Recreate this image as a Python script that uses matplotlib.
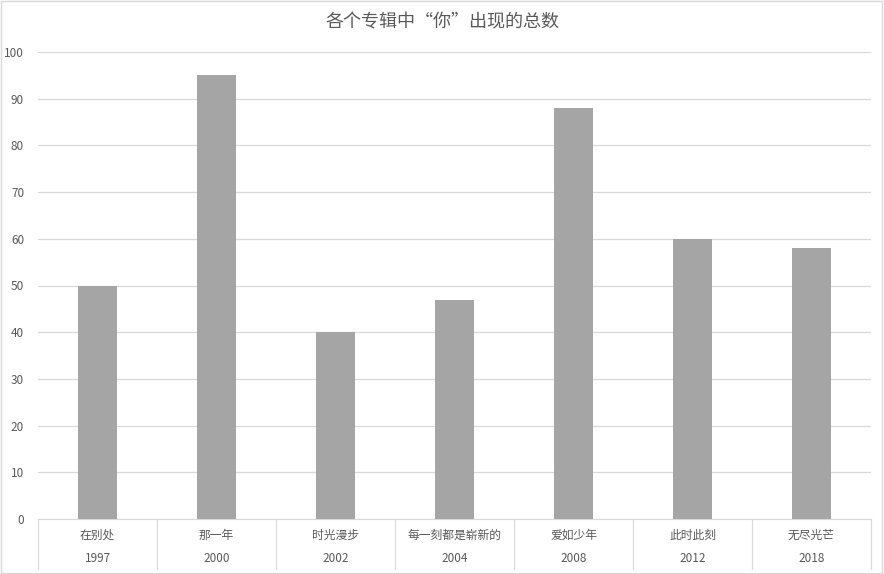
import matplotlib.pyplot as plt
from matplotlib.patches import Rectangle
import matplotlib.transforms as mtransforms

plt.rcParams['font.family'] = ['Noto Sans CJK SC', 'DejaVu Sans']

# album names, release years and how often "你" appears
albums = ['在别处', '那一年', '时光漫步', '每一刻都是崭新的', '爱如少年', '此时此刻', '无尽光芒']
years = ['1997', '2000', '2002', '2004', '2008', '2012', '2018']
counts = [50, 95, 40, 47, 88, 60, 58]

text_color = '#595959'
line_color = '#D9D9D9'

fig = plt.figure(figsize=(8.84, 5.74), dpi=100)
ax = fig.add_axes([38 / 884, 55 / 574, 833 / 884, 467 / 574])

x = list(range(len(albums)))
ax.bar(x, counts, width=0.32, color='#A5A5A5', zorder=3)

ax.set_xlim(-0.5, len(albums) - 0.5)
ax.set_ylim(0, 100)
ax.set_yticks(range(0, 101, 10))
ax.yaxis.grid(True, color=line_color, linewidth=0.9, zorder=0)
ax.tick_params(axis='y', length=0, labelsize=8.5, labelcolor=text_color, pad=10)
ax.set_xticks([])
for s in ['top', 'right', 'left']:
    ax.spines[s].set_visible(False)
ax.spines['bottom'].set_color(line_color)

# two-level category axis: album name on top, year below
trans = mtransforms.blended_transform_factory(ax.transData, ax.transAxes)
for i in x:
    ax.text(i, -16 / 467, albums[i], transform=trans, ha='center', va='center',
            fontsize=8.5, color=text_color)
    ax.text(i, -40 / 467, years[i], transform=trans, ha='center', va='center',
            fontsize=8.5, color=text_color)
for b in range(len(albums) + 1):
    ax.plot([b - 0.5, b - 0.5], [0, -50 / 467], transform=trans, color=line_color,
            linewidth=0.9, clip_on=False)

fig.text(0.5, 1 - 22 / 574, '各个专辑中“你”出现的总数', ha='center', va='center',
         fontsize=13, color=text_color)

fig.patches.append(Rectangle((0.001, 0.002), 0.997, 0.996, transform=fig.transFigure,
                             fill=False, edgecolor=line_color, linewidth=1))

fig.savefig('out.png', dpi=100)
